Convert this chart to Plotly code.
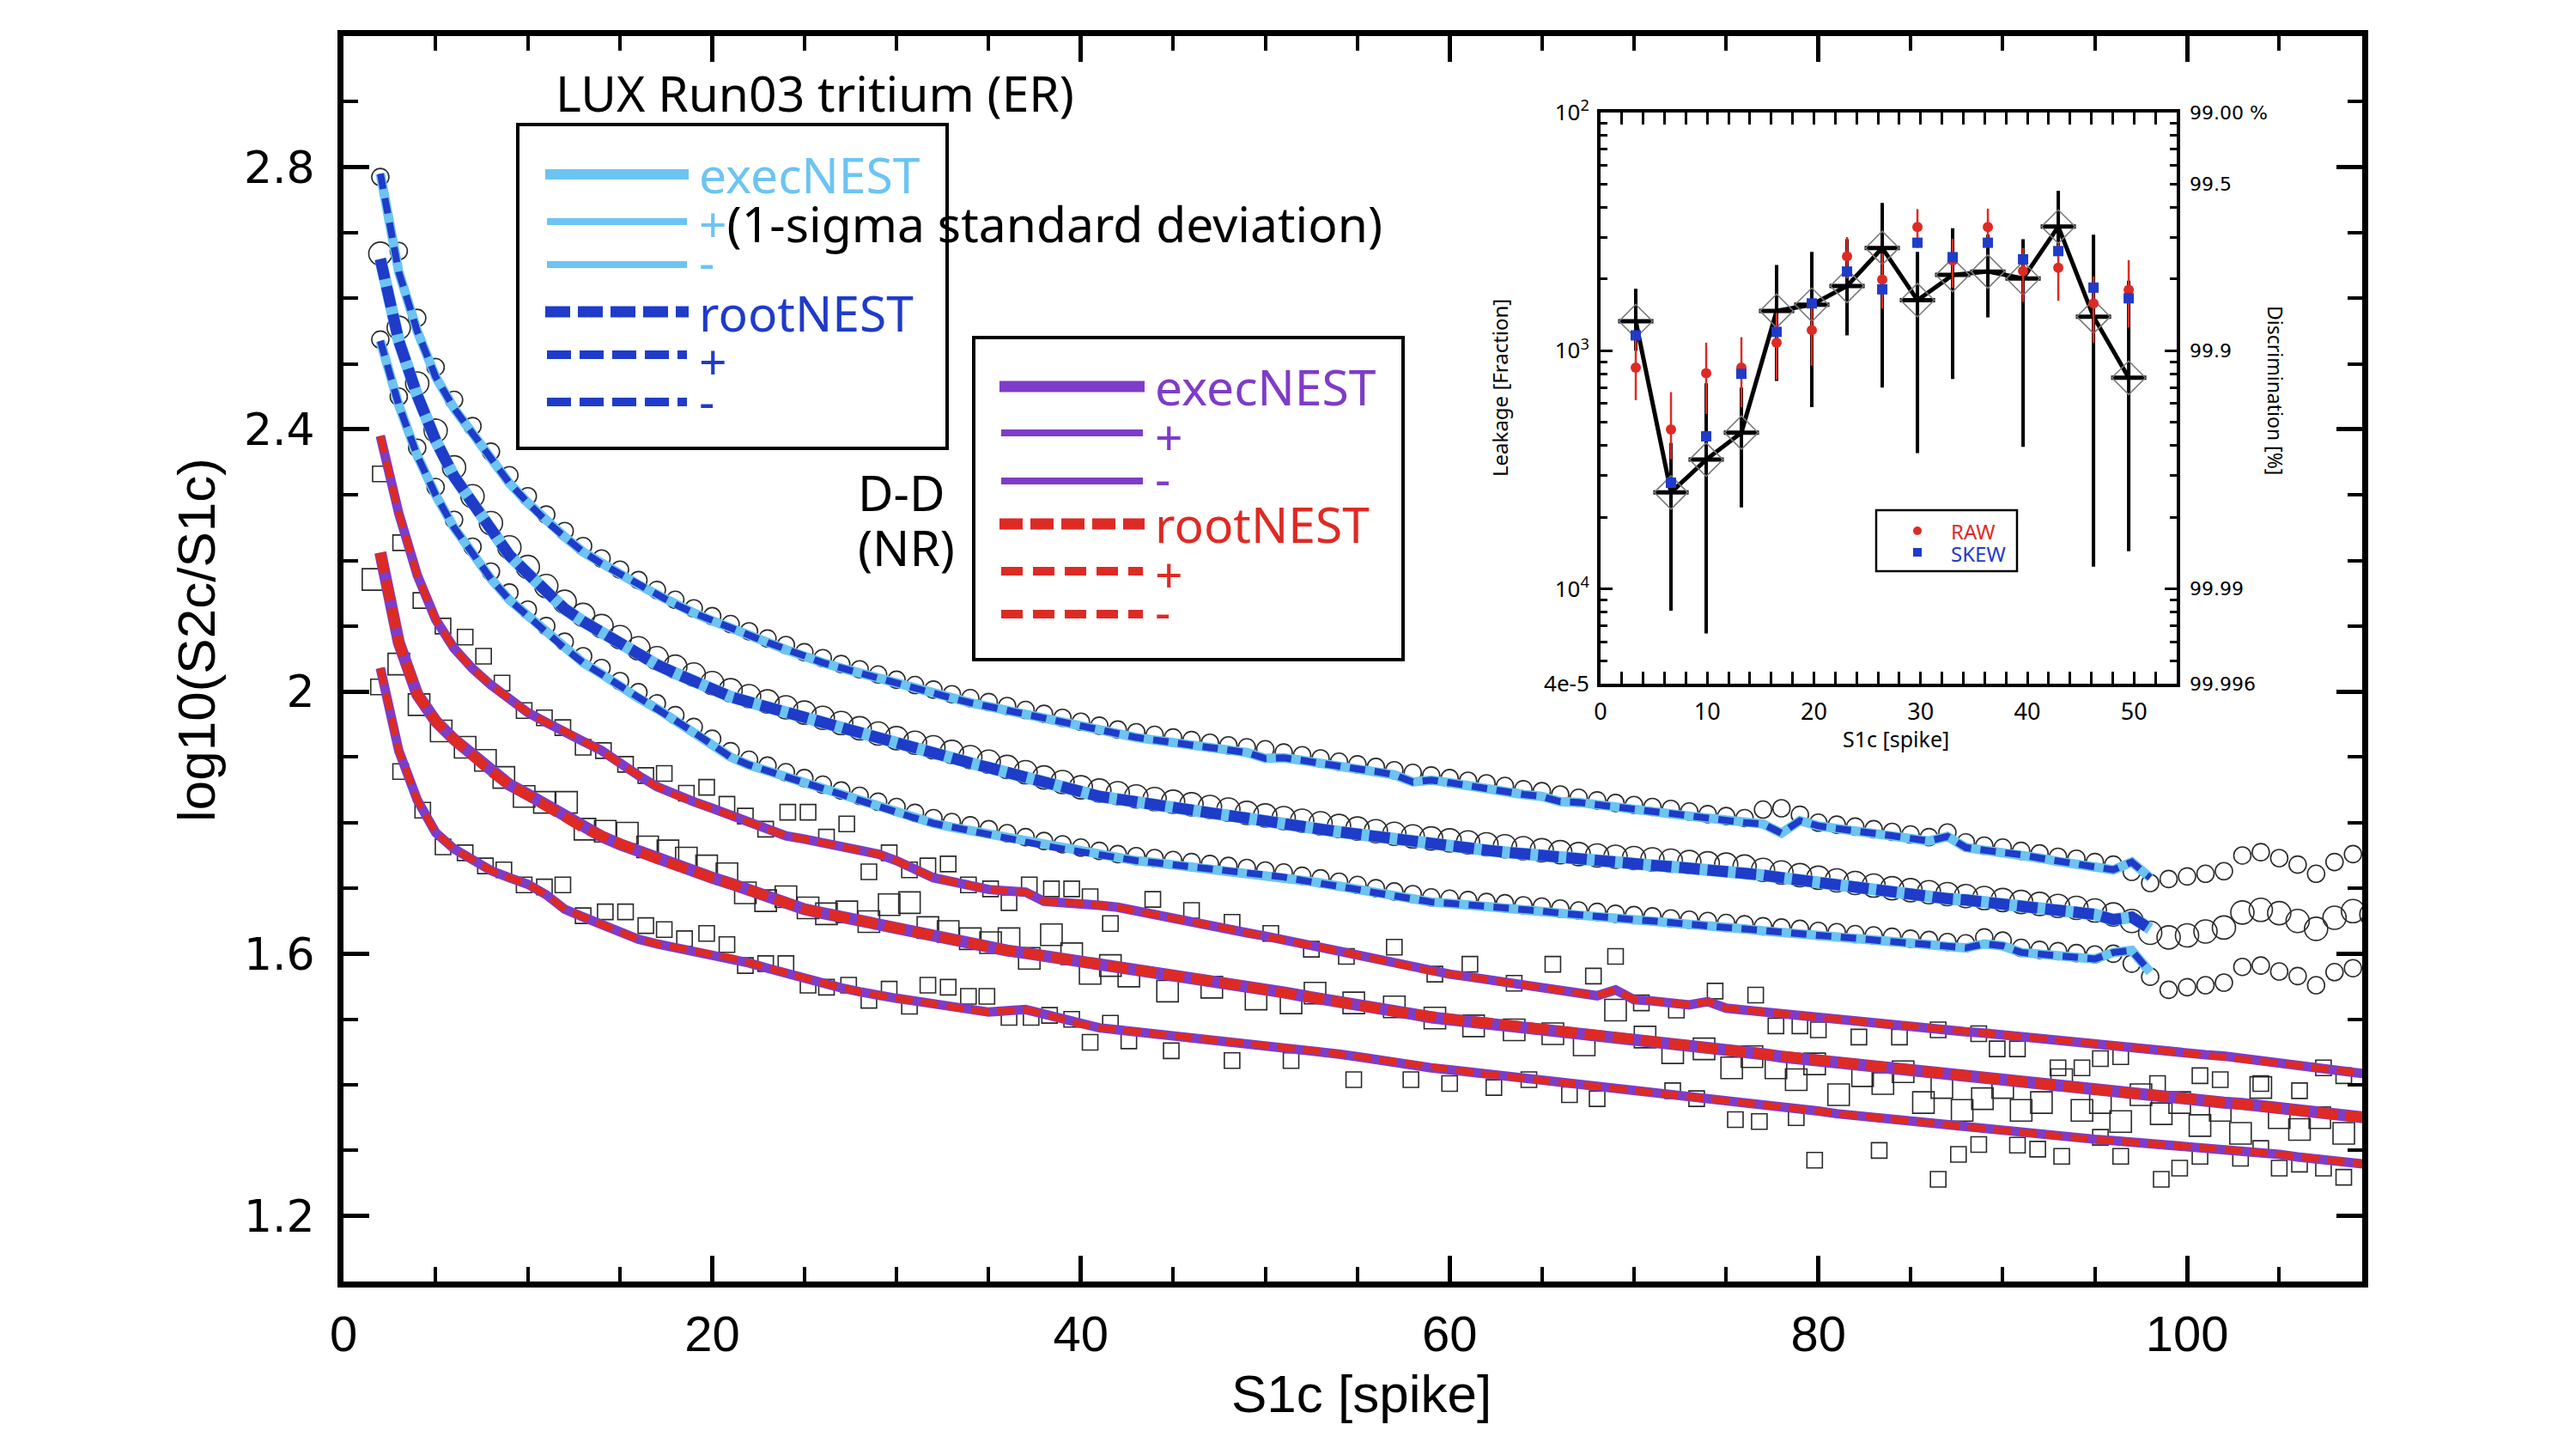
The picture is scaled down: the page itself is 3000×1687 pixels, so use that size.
import math
import plotly.graph_objects as go

# ---------------- main panel data ----------------
# ER (tritium) data points: mean, +1 sigma, -1 sigma (S1c = 2 .. 110)
er_pts_start = 2
er_top_pts = [2.785, 2.672, 2.57, 2.495, 2.445, 2.405, 2.366, 2.33, 2.298, 2.27,
              2.245, 2.222, 2.203, 2.186, 2.17, 2.155, 2.14, 2.127, 2.115, 2.103,
              2.092, 2.081, 2.071, 2.06, 2.051, 2.042, 2.034, 2.026, 2.018, 2.01,
              2.003, 1.996, 1.99, 1.984, 1.978, 1.972, 1.966, 1.96, 1.954, 1.948,
              1.942, 1.938, 1.934, 1.93, 1.926, 1.922, 1.918, 1.915, 1.912, 1.907,
              1.903, 1.898, 1.893, 1.889, 1.885, 1.88, 1.876, 1.872, 1.868, 1.864,
              1.86, 1.856, 1.851, 1.848, 1.843, 1.838, 1.834, 1.83, 1.827, 1.824,
              1.821, 1.817, 1.813, 1.81, 1.807, 1.82, 1.822, 1.812, 1.80, 1.797,
              1.794, 1.79, 1.786, 1.782, 1.778, 1.785, 1.77, 1.765, 1.762, 1.757,
              1.753, 1.748, 1.745, 1.74, 1.736, 1.725, 1.708, 1.714, 1.718, 1.722,
              1.726, 1.75, 1.755, 1.746, 1.736, 1.722, 1.74, 1.752, 1.75]
er_mid_pts = [2.668, 2.555, 2.47, 2.398, 2.342, 2.298, 2.257, 2.22, 2.19, 2.161,
              2.137, 2.117, 2.1, 2.083, 2.066, 2.051, 2.038, 2.026, 2.013, 2.002,
              1.993, 1.985, 1.976, 1.968, 1.96, 1.952, 1.944, 1.936, 1.929, 1.922,
              1.915, 1.908, 1.9, 1.893, 1.885, 1.877, 1.869, 1.862, 1.854, 1.849,
              1.845, 1.84, 1.836, 1.832, 1.828, 1.824, 1.82, 1.815, 1.811, 1.807,
              1.803, 1.799, 1.795, 1.791, 1.787, 1.783, 1.779, 1.776, 1.773, 1.77,
              1.767, 1.764, 1.761, 1.758, 1.755, 1.752, 1.75, 1.748, 1.746, 1.744,
              1.742, 1.74, 1.738, 1.736, 1.733, 1.728, 1.724, 1.72, 1.716, 1.712,
              1.708, 1.704, 1.70, 1.697, 1.694, 1.691, 1.688, 1.685, 1.682, 1.679,
              1.676, 1.673, 1.67, 1.666, 1.66, 1.65, 1.632, 1.625, 1.628, 1.634,
              1.64, 1.663, 1.667, 1.662, 1.65, 1.638, 1.655, 1.665, 1.66]
er_low_pts = [2.537, 2.45, 2.372, 2.312, 2.262, 2.221, 2.183, 2.151, 2.125, 2.1,
              2.076, 2.054, 2.036, 2.016, 1.999, 1.982, 1.964, 1.946, 1.928, 1.909,
              1.896, 1.887, 1.877, 1.868, 1.858, 1.849, 1.841, 1.832, 1.824, 1.815,
              1.807, 1.801, 1.796, 1.79, 1.784, 1.778, 1.772, 1.767, 1.762, 1.757,
              1.752, 1.749, 1.746, 1.743, 1.74, 1.737, 1.734, 1.731, 1.727, 1.724,
              1.719, 1.715, 1.71, 1.705, 1.70, 1.695, 1.691, 1.686, 1.684, 1.682,
              1.679, 1.677, 1.674, 1.672, 1.669, 1.666, 1.664, 1.661, 1.659, 1.657,
              1.654, 1.652, 1.65, 1.647, 1.645, 1.642, 1.64, 1.638, 1.635, 1.633,
              1.63, 1.628, 1.626, 1.623, 1.621, 1.618, 1.616, 1.625, 1.62, 1.609,
              1.606, 1.604, 1.601, 1.599, 1.6, 1.585, 1.565, 1.545, 1.549, 1.552,
              1.556, 1.58, 1.582, 1.573, 1.566, 1.552, 1.572, 1.578, 1.575]

# ER model curves (S1c = 2 .. 98)
er_line_start = 2
exec_er_top = [2.79, 2.64, 2.55, 2.48, 2.432, 2.395, 2.355, 2.318, 2.288, 2.26,
               2.236, 2.213, 2.195, 2.179, 2.163, 2.148, 2.133, 2.12, 2.108, 2.096,
               2.086, 2.075, 2.064, 2.053, 2.044, 2.036, 2.028, 2.02, 2.012, 2.004,
               1.996, 1.99, 1.983, 1.977, 1.971, 1.965, 1.958, 1.952, 1.946, 1.94,
               1.934, 1.93, 1.926, 1.922, 1.918, 1.914, 1.91, 1.907, 1.898, 1.899,
               1.895, 1.89, 1.886, 1.882, 1.878, 1.873, 1.862, 1.865, 1.861, 1.856,
               1.852, 1.848, 1.843, 1.84, 1.832, 1.831, 1.827, 1.823, 1.82, 1.817,
               1.814, 1.81, 1.807, 1.803, 1.8, 1.798, 1.784, 1.803, 1.795, 1.791,
               1.788, 1.784, 1.78, 1.776, 1.772, 1.779, 1.762, 1.758, 1.755, 1.751,
               1.746, 1.741, 1.737, 1.733, 1.728, 1.74, 1.716]
exec_er_mid = [2.66, 2.535, 2.452, 2.383, 2.328, 2.286, 2.244, 2.208, 2.18, 2.15,
               2.126, 2.107, 2.09, 2.073, 2.056, 2.041, 2.028, 2.016, 2.003, 1.992,
               1.984, 1.976, 1.967, 1.959, 1.951, 1.943, 1.935, 1.927, 1.92, 1.913,
               1.906, 1.899, 1.891, 1.884, 1.876, 1.868, 1.86, 1.853, 1.845, 1.84,
               1.836, 1.831, 1.827, 1.823, 1.819, 1.815, 1.811, 1.806, 1.802, 1.798,
               1.794, 1.79, 1.786, 1.782, 1.778, 1.774, 1.77, 1.767, 1.764, 1.761,
               1.758, 1.755, 1.752, 1.749, 1.746, 1.743, 1.741, 1.739, 1.737, 1.735,
               1.733, 1.731, 1.729, 1.727, 1.725, 1.72, 1.716, 1.712, 1.708, 1.704,
               1.70, 1.696, 1.693, 1.69, 1.687, 1.684, 1.682, 1.679, 1.676, 1.673,
               1.67, 1.667, 1.664, 1.66, 1.652, 1.656, 1.638]
exec_er_low = [2.535, 2.437, 2.36, 2.30, 2.25, 2.21, 2.172, 2.14, 2.115, 2.09,
               2.066, 2.044, 2.027, 2.007, 1.99, 1.974, 1.956, 1.938, 1.92, 1.90,
               1.888, 1.879, 1.869, 1.86, 1.85, 1.841, 1.833, 1.824, 1.816, 1.807,
               1.799, 1.793, 1.788, 1.783, 1.777, 1.771, 1.765, 1.76, 1.755, 1.75,
               1.745, 1.742, 1.739, 1.736, 1.733, 1.73, 1.727, 1.724, 1.72, 1.717,
               1.712, 1.708, 1.703, 1.698, 1.693, 1.688, 1.684, 1.679, 1.677, 1.675,
               1.672, 1.67, 1.667, 1.665, 1.662, 1.659, 1.657, 1.654, 1.652, 1.65,
               1.647, 1.645, 1.643, 1.64, 1.638, 1.635, 1.633, 1.631, 1.628, 1.626,
               1.623, 1.621, 1.619, 1.616, 1.614, 1.611, 1.609, 1.615, 1.612, 1.602,
               1.599, 1.597, 1.594, 1.592, 1.602, 1.605, 1.572]
root_er_top = list(exec_er_top)
root_er_mid = list(exec_er_mid)
root_er_low = list(exec_er_low)

# NR (D-D) model curves (S1c = 2 .. 110)
nr_line_start = 2
exec_nr_top = [2.39, 2.272, 2.178, 2.11, 2.066, 2.035, 2.01, 1.99, 1.968, 1.953,
               1.94, 1.924, 1.91, 1.89, 1.872, 1.855, 1.842, 1.832, 1.822, 1.812,
               1.80, 1.79, 1.78, 1.775, 1.769, 1.763, 1.757, 1.752, 1.742, 1.729,
               1.716, 1.71, 1.703, 1.698, 1.696, 1.694, 1.68, 1.679, 1.677, 1.674,
               1.671, 1.665, 1.66, 1.654, 1.648, 1.643, 1.638, 1.632, 1.627, 1.622,
               1.616, 1.61, 1.604, 1.598, 1.592, 1.585, 1.578, 1.573, 1.569, 1.565,
               1.561, 1.557, 1.553, 1.549, 1.545, 1.54, 1.536, 1.545, 1.53, 1.528,
               1.525, 1.522, 1.527, 1.517, 1.514, 1.511, 1.509, 1.506, 1.503, 1.5,
               1.498, 1.495, 1.492, 1.49, 1.487, 1.484, 1.481, 1.479, 1.476, 1.473,
               1.471, 1.468, 1.466, 1.463, 1.46, 1.457, 1.455, 1.452, 1.449, 1.446,
               1.444, 1.44, 1.437, 1.433, 1.43, 1.426, 1.422, 1.419, 1.416]
exec_nr_mid = [2.212, 2.075, 1.996, 1.955, 1.927, 1.902, 1.878, 1.858, 1.843, 1.826,
               1.809, 1.792, 1.779, 1.767, 1.756, 1.745, 1.734, 1.725, 1.716, 1.707,
               1.697, 1.686, 1.675, 1.668, 1.662, 1.656, 1.652, 1.647, 1.641, 1.635,
               1.629, 1.622, 1.616, 1.61, 1.605, 1.601, 1.597, 1.592, 1.588, 1.584,
               1.58, 1.575, 1.571, 1.567, 1.562, 1.558, 1.554, 1.55, 1.545, 1.541,
               1.536, 1.532, 1.527, 1.522, 1.517, 1.512, 1.508, 1.503, 1.5, 1.497,
               1.495, 1.492, 1.489, 1.487, 1.484, 1.481, 1.478, 1.474, 1.47, 1.467,
               1.463, 1.46, 1.456, 1.453, 1.45, 1.447, 1.443, 1.44, 1.437, 1.433,
               1.43, 1.427, 1.423, 1.42, 1.417, 1.415, 1.412, 1.409, 1.407, 1.404,
               1.401, 1.399, 1.396, 1.393, 1.39, 1.387, 1.385, 1.382, 1.379, 1.376,
               1.373, 1.371, 1.368, 1.364, 1.361, 1.358, 1.355, 1.352, 1.349]
exec_nr_low = [2.036, 1.91, 1.835, 1.785, 1.76, 1.743, 1.727, 1.716, 1.706, 1.69,
               1.668, 1.656, 1.645, 1.633, 1.622, 1.615, 1.609, 1.603, 1.599, 1.594,
               1.586, 1.578, 1.57, 1.562, 1.555, 1.548, 1.542, 1.536, 1.532, 1.528,
               1.523, 1.519, 1.514, 1.511, 1.513, 1.515, 1.508, 1.5, 1.492, 1.487,
               1.484, 1.481, 1.478, 1.476, 1.473, 1.47, 1.467, 1.465, 1.462, 1.459,
               1.455, 1.451, 1.447, 1.443, 1.438, 1.434, 1.43, 1.426, 1.423, 1.42,
               1.416, 1.413, 1.41, 1.406, 1.403, 1.4, 1.396, 1.393, 1.39, 1.387,
               1.384, 1.381, 1.379, 1.376, 1.373, 1.37, 1.366, 1.363, 1.36, 1.356,
               1.353, 1.35, 1.347, 1.344, 1.341, 1.338, 1.335, 1.333, 1.33, 1.327,
               1.324, 1.322, 1.319, 1.317, 1.315, 1.313, 1.311, 1.309, 1.307, 1.305,
               1.303, 1.3, 1.297, 1.294, 1.29, 1.287, 1.284, 1.281, 1.278]
root_nr_top = list(exec_nr_top)
root_nr_mid = list(exec_nr_mid)
root_nr_low = list(exec_nr_low)

# NR (D-D) data squares
nr_top_x = [2.0, 3.1, 4.2, 5.4, 6.6, 7.6, 8.6, 9.8, 10.9, 11.9, 13.0, 14.1, 15.3, 16.4, 17.4,
            18.6, 19.7, 20.8, 21.8, 22.9, 24.1, 25.2, 26.2, 27.3, 28.5, 29.6, 30.7, 31.7,
            32.8, 33.9, 35.1, 36.1, 37.2, 38.4, 39.5, 40.5, 41.6, 43.9, 46.0, 48.2, 50.3,
            52.5, 54.4, 57.0, 59.2, 61.1, 63.5, 65.6, 67.8, 69.0, 70.4, 72.3, 74.4, 76.6,
            77.7, 79.0, 80.0, 82.2, 84.4, 86.5, 88.7, 89.7, 90.8, 93.0, 94.3, 95.3, 96.4,
            98.4, 100.7, 101.8, 104.0, 106.1, 107.4, 108.5]
nr_top_y = [2.332, 2.227, 2.139, 2.10, 2.083, 2.054, 2.013, 1.971, 1.96, 1.945, 1.915, 1.91,
            1.889, 1.872, 1.875, 1.845, 1.854, 1.828, 1.81, 1.79, 1.816, 1.816, 1.778, 1.798,
            1.725, 1.754, 1.728, 1.734, 1.737, 1.705, 1.699, 1.678, 1.705, 1.699, 1.699,
            1.687, 1.646, 1.683, 1.666, 1.648, 1.631, 1.607, 1.596, 1.61, 1.569, 1.584,
            1.555, 1.584, 1.566, 1.596, 1.525, 1.514, 1.543, 1.537, 1.49, 1.49, 1.484,
            1.473, 1.473, 1.484, 1.478, 1.455, 1.455, 1.426, 1.426, 1.44, 1.443, 1.402,
            1.414, 1.408, 1.402, 1.391, 1.426, 1.414]
nr_mid_x = [1.6, 3.0, 4.1, 5.3, 6.6, 7.7, 8.7, 9.8, 10.9, 12.1, 13.1, 14.2, 15.4, 16.5, 17.6,
            18.6, 19.7, 20.8, 21.8, 22.9, 24.0, 25.2, 26.2, 27.3, 28.5, 29.6, 30.7, 31.7,
            32.8, 34.0, 35.1, 36.1, 37.2, 38.4, 39.5, 40.5, 41.6, 42.6, 44.7, 47.1, 49.5,
            51.4, 52.7, 54.8, 57.0, 59.2, 61.3, 63.5, 65.6, 67.3, 69.0, 70.6, 72.1, 73.8,
            75.3, 76.4, 77.7, 78.8, 79.8, 81.1, 82.4, 83.5, 84.6, 85.7, 86.7, 87.8, 88.9,
            90.0, 91.0, 92.1, 93.2, 94.3, 95.3, 96.4, 97.5, 98.6, 99.6, 100.7, 101.8,
            102.9, 104.0, 105.0, 106.1, 107.2, 108.5]
nr_mid_y = [2.171, 2.042, 1.98, 1.94, 1.915, 1.895, 1.869, 1.84, 1.831, 1.831, 1.79, 1.787,
            1.784, 1.763, 1.757, 1.746, 1.734, 1.722, 1.693, 1.681, 1.687, 1.67, 1.661,
            1.664, 1.649, 1.675, 1.678, 1.64, 1.634, 1.623, 1.617, 1.623, 1.593, 1.629,
            1.60, 1.57, 1.582, 1.566, 1.543, 1.549, 1.531, 1.525, 1.54, 1.525, 1.519,
            1.502, 1.49, 1.484, 1.478, 1.461, 1.514, 1.473, 1.449, 1.455, 1.426, 1.443,
            1.426, 1.408, 1.432, 1.385, 1.414, 1.402, 1.42, 1.373, 1.396, 1.361, 1.379,
            1.396, 1.361, 1.373, 1.408, 1.361, 1.373, 1.344, 1.385, 1.356, 1.373, 1.338,
            1.361, 1.326, 1.396, 1.35, 1.332, 1.35, 1.326]
nr_low_x = [1.9, 3.1, 4.3, 5.4, 6.6, 7.7, 8.7, 9.8, 10.9, 11.9, 13.0, 14.2, 15.3, 16.4, 17.4,
            18.5, 19.7, 20.8, 21.8, 22.9, 24.0, 25.2, 26.2, 27.4, 28.5, 29.6, 30.7, 31.7,
            32.8, 33.9, 34.9, 36.1, 37.3, 38.3, 39.5, 40.5, 41.6, 42.6, 44.9, 48.2, 51.4,
            54.8, 57.9, 60.0, 62.4, 64.3, 66.5, 68.0, 72.1, 73.4, 75.5, 76.8, 78.8, 79.8,
            83.3, 86.5, 87.6, 88.7, 90.8, 91.9, 93.2, 95.3, 96.4, 98.6, 99.6, 100.7,
            102.9, 104.0, 105.0, 106.1, 107.4, 108.5]
nr_low_y = [2.007, 1.878, 1.819, 1.763, 1.754, 1.734, 1.728, 1.705, 1.702, 1.705, 1.658,
            1.664, 1.664, 1.643, 1.637, 1.623, 1.631, 1.614, 1.582, 1.585, 1.585, 1.552,
            1.549, 1.552, 1.529, 1.546, 1.52, 1.552, 1.549, 1.535, 1.535, 1.503, 1.503,
            1.506, 1.50, 1.465, 1.494, 1.467, 1.452, 1.437, 1.437, 1.408, 1.408, 1.402,
            1.396, 1.408, 1.385, 1.379, 1.391, 1.379, 1.347, 1.344, 1.35, 1.285, 1.30,
            1.256, 1.294, 1.309, 1.308, 1.302, 1.291, 1.32, 1.291, 1.256, 1.273, 1.291,
            1.288, 1.303, 1.273, 1.279, 1.273, 1.259]

x_ticks = [0, 20, 40, 60, 80, 100]
y_ticks = [1.2, 1.6, 2.0, 2.4, 2.8]
y_tick_text = ["1.2", "1.6", "2", "2.4", "2.8"]

# ---------------- inset data ----------------
inset_x = [3.3, 6.6, 9.9, 13.2, 16.5, 19.8, 23.1, 26.4, 29.7, 33.0, 36.3, 39.6, 42.9, 46.2, 49.5]
bin_halfwidth = 1.65
leak = [1.33e-3, 2.54e-4, 3.49e-4, 4.53e-4, 1.47e-3, 1.56e-3, 1.87e-3, 2.70e-3,
        1.63e-3, 2.08e-3, 2.15e-3, 2.01e-3, 3.32e-3, 1.39e-3, 7.7e-4]
leak_hi = [1.82e-3, 4.1e-4, 7.3e-4, 7.0e-4, 2.29e-3, 2.6e-3, 2.94e-3, 4.17e-3,
           2.6e-3, 3.27e-3, 3.07e-3, 2.94e-3, 4.69e-3, 3.07e-3, 1.97e-3]
leak_lo = [1.0e-3, 8.1e-5, 6.5e-5, 2.2e-4, 7.46e-4, 5.8e-4, 1.16e-3, 7.0e-4,
           3.72e-4, 7.6e-4, 1.38e-3, 3.95e-4, 2.6e-3, 1.24e-4, 1.44e-4]
raw = [8.5e-4, 4.67e-4, 8.05e-4, 8.5e-4, 1.08e-3, 1.22e-3, 2.49e-3, 1.99e-3,
       3.31e-3, 2.39e-3, 3.31e-3, 2.16e-3, 2.23e-3, 1.58e-3, 1.80e-3]
raw_hi = [1.21e-3, 6.7e-4, 1.08e-3, 1.14e-3, 1.44e-3, 1.54e-3, 3.0e-3, 2.56e-3,
          3.93e-3, 2.95e-3, 3.95e-3, 2.7e-3, 2.8e-3, 2.05e-3, 2.4e-3]
raw_lo = [6.2e-4, 3.5e-4, 5.43e-4, 5.8e-4, 7.55e-4, 8.65e-4, 2.01e-3, 1.5e-3,
          2.7e-3, 1.84e-3, 2.72e-3, 1.6e-3, 1.62e-3, 1.08e-3, 1.25e-3]
skew = [1.16e-3, 2.79e-4, 4.37e-4, 8.0e-4, 1.2e-3, 1.58e-3, 2.15e-3, 1.81e-3,
        2.84e-3, 2.47e-3, 2.84e-3, 2.42e-3, 2.62e-3, 1.84e-3, 1.66e-3]
inset_x_ticks = [0, 10, 20, 30, 40, 50]
leak_tick_vals = [1e-2, 1e-3, 1e-4, 4e-5]
leak_tick_text = ["10<sup>2</sup>", "10<sup>3</sup>", "10<sup>4</sup>", "4e-5"]
disc_tick_vals = [1e-2, 5e-3, 1e-3, 1e-4, 4e-5]
disc_tick_text = ["99.00 %", "99.5", "99.9", "99.99", "99.996"]

# ---------------- styling ----------------
W, H = 3000, 1687
ML, MR, MT, MB = 400, 249, 42, 195
PW, PH = W - ML - MR, H - MT - MB


def pxx(x):
    return (x - ML) / PW


def pyy(y):
    return (H - MB - y) / PH


C_LB = "#6CC4F2"
C_DB = "#1F3BC9"
C_PU = "#7E3CC8"
C_RD = "#DE2A24"
C_MK = "#2a2a2a"
TXT = "Noto Sans"


def xs(start, arr):
    return [start + i for i in range(len(arr))]


fig = go.Figure()

# data markers
for arr, size in [(er_top_pts, 20), (er_mid_pts, 27), (er_low_pts, 20)]:
    fig.add_trace(go.Scatter(x=xs(er_pts_start, arr), y=arr, mode="markers",
                             marker=dict(symbol="circle-open", size=size, color=C_MK,
                                         line=dict(width=1.6, color=C_MK)),
                             showlegend=False, hoverinfo="skip"))
for xa, ya, size in [(nr_top_x, nr_top_y, 18), (nr_mid_x, nr_mid_y, 25), (nr_low_x, nr_low_y, 18)]:
    fig.add_trace(go.Scatter(x=xa, y=ya, mode="markers",
                             marker=dict(symbol="square-open", size=size, color=C_MK,
                                         line=dict(width=1.6, color=C_MK)),
                             showlegend=False, hoverinfo="skip"))

# model curves
for arr, w in [(exec_nr_top, 11), (exec_nr_mid, 14), (exec_nr_low, 11)]:
    fig.add_trace(go.Scatter(x=xs(nr_line_start, arr), y=arr, mode="lines",
                             line=dict(color=C_PU, width=w), showlegend=False, hoverinfo="skip"))
for arr, w, d in [(root_nr_top, 8, "20px,10px"), (root_nr_mid, 12, "24px,9px"), (root_nr_low, 8, "20px,10px")]:
    fig.add_trace(go.Scatter(x=xs(nr_line_start, arr), y=arr, mode="lines",
                             line=dict(color=C_RD, width=w, dash=d), showlegend=False, hoverinfo="skip"))
for arr, w in [(exec_er_top, 11), (exec_er_mid, 14), (exec_er_low, 11)]:
    fig.add_trace(go.Scatter(x=xs(er_line_start, arr), y=arr, mode="lines",
                             line=dict(color=C_LB, width=w), showlegend=False, hoverinfo="skip"))
for arr, w, d in [(root_er_top, 8, "18px,11px"), (root_er_mid, 13, "24px,9px"), (root_er_low, 8, "18px,11px")]:
    fig.add_trace(go.Scatter(x=xs(er_line_start, arr), y=arr, mode="lines",
                             line=dict(color=C_DB, width=w, dash=d), showlegend=False, hoverinfo="skip"))

# ---------------- inset traces ----------------
fig.add_trace(go.Scatter(
    x=inset_x, y=leak, mode="lines", xaxis="x2", yaxis="y2",
    line=dict(color="black", width=5),
    error_x=dict(type="constant", value=bin_halfwidth, thickness=5, width=0, color="black"),
    error_y=dict(type="data", array=[h - v for h, v in zip(leak_hi, leak)],
                 arrayminus=[v - l for v, l in zip(leak, leak_lo)],
                 thickness=4, width=0, color="black"),
    showlegend=False, hoverinfo="skip"))
fig.add_trace(go.Scatter(
    x=inset_x, y=leak, mode="markers", xaxis="x2", yaxis="y2",
    marker=dict(symbol="diamond-open", size=30, color="#7a7a7a", line=dict(width=1.6, color="#7a7a7a")),
    showlegend=False, hoverinfo="skip"))
fig.add_trace(go.Scatter(
    x=inset_x, y=raw, mode="markers", xaxis="x2", yaxis="y2",
    marker=dict(symbol="circle", size=12, color=C_RD),
    error_y=dict(type="data", array=[h - v for h, v in zip(raw_hi, raw)],
                 arrayminus=[v - l for v, l in zip(raw, raw_lo)],
                 thickness=2.5, width=0, color=C_RD),
    showlegend=False, hoverinfo="skip"))
fig.add_trace(go.Scatter(
    x=inset_x, y=skew, mode="markers", xaxis="x2", yaxis="y2",
    marker=dict(symbol="square", size=12, color=C_DB),
    showlegend=False, hoverinfo="skip"))
# right-hand discrimination axis (shares the leakage scale)
fig.add_trace(go.Scatter(
    x=inset_x, y=leak, mode="markers", xaxis="x2", yaxis="y3",
    marker=dict(size=1, opacity=0), showlegend=False, hoverinfo="skip"))

# ---------------- axes ----------------
main_axis = dict(showline=True, linewidth=7, linecolor="black", mirror="allticks",
                 ticks="inside", tickwidth=5, tickcolor="black", showgrid=False, zeroline=False)
fig.update_layout(
    xaxis=dict(domain=[0, 1], range=[0, 109.5], anchor="y", tickvals=x_ticks, ticklen=30,
               tickfont=dict(family="Liberation Sans, Arial", size=58, color="black"),
               ticklabelstandoff=4,
               minor=dict(ticks="inside", ticklen=17, tickwidth=4, tickcolor="black",
                          tickvals=[v for v in range(5, 110, 5) if v % 20]),
               **main_axis),
    yaxis=dict(domain=[0, 1], range=[1.1, 3.0], anchor="x", tickvals=y_ticks, ticktext=y_tick_text,
               ticklen=30, tickfont=dict(family="DejaVu Sans", size=52, color="black"),
               ticklabelstandoff=16,
               minor=dict(ticks="inside", ticklen=17, tickwidth=4, tickcolor="black",
                          tickvals=[round(1.1 + 0.1 * i, 2) for i in range(20)]),
               **main_axis),
)

lo, hi = math.log10(4e-5), -2
inset_axis = dict(showline=True, linewidth=4, linecolor="black", mirror="allticks",
                  ticks="inside", tickwidth=3, tickcolor="black", showgrid=False, zeroline=False)
minor_leak = [m * 10 ** e for e in (-3, -4) for m in range(2, 10)] + [m * 1e-5 for m in range(5, 10)]
fig.update_layout(
    xaxis2=dict(domain=[pxx(1864), pxx(2535)], range=[0, 54], anchor="y2", tickvals=inset_x_ticks,
                ticklen=14, tickfont=dict(family=TXT, size=27, color="black"), ticklabelstandoff=6,
                minor=dict(ticks="inside", ticklen=8, tickwidth=2.5, tickcolor="black",
                           tickvals=[v for v in range(2, 54, 2) if v % 10]),
                **inset_axis),
    yaxis2=dict(domain=[pyy(796), pyy(131)], type="log", range=[lo, hi], anchor="x2",
                tickvals=leak_tick_vals, ticktext=leak_tick_text, ticklen=14,
                tickfont=dict(family=TXT, size=26, color="black"), ticklabelstandoff=4,
                minor=dict(ticks="inside", ticklen=8, tickwidth=2.5, tickcolor="black",
                           tickvals=minor_leak),
                **inset_axis),
    yaxis3=dict(domain=[pyy(796), pyy(131)], type="log", range=[lo, hi], anchor="x2",
                overlaying="y2", side="right", tickvals=disc_tick_vals, ticktext=disc_tick_text,
                ticks="", showline=False, showgrid=False, zeroline=False, ticklabelstandoff=14,
                tickfont=dict(family="DejaVu Sans", size=22, color="black")),
)

# ---------------- annotations & legend boxes ----------------
ann = []
shapes = []


def text(x, y, s, size=57, color="black", family=TXT, anchor="left", angle=0):
    ann.append(dict(x=pxx(x), y=pyy(y), xref="paper", yref="paper", text=s, showarrow=False,
                    xanchor=anchor, yanchor="middle", textangle=angle,
                    font=dict(family=family, size=size, color=color)))


def hline(x0, x1, y, color, width, dash="solid"):
    shapes.append(dict(type="line", xref="paper", yref="paper", x0=pxx(x0), x1=pxx(x1),
                       y0=pyy(y), y1=pyy(y), line=dict(color=color, width=width, dash=dash)))


def box(x0, y0, x1, y1, width):
    shapes.append(dict(type="rect", xref="paper", yref="paper", x0=pxx(x0), x1=pxx(x1),
                       y0=pyy(y1), y1=pyy(y0), line=dict(color="black", width=width),
                       fillcolor="rgba(0,0,0,0)"))


# axis titles
text(1585, 1622, "S1c [spike]", size=62, family="Liberation Sans, Arial", anchor="center")
text(228, 745, "log10(S2c/S1c)", size=62, family="Liberation Sans, Arial", anchor="center", angle=-90)

# ER legend
text(645, 108, "LUX Run03 tritium (ER)", size=57)
box(603, 145, 1103, 522, 4)
hline(635, 802, 203, C_LB, 12)
hline(637, 800, 258, C_LB, 8)
hline(637, 800, 308, C_LB, 8)
hline(635, 802, 363, C_DB, 13, "29px,9px")
hline(637, 800, 413, C_DB, 10, "28px,10px")
hline(637, 800, 468, C_DB, 10, "28px,10px")
text(812, 203, "execNEST", color=C_LB)
text(812, 260, "<span style='color:%s'>+</span>(1-sigma standard deviation)" % C_LB)
text(812, 304, "-", color=C_LB)
text(812, 364, "rootNEST", color=C_DB)
text(812, 420, "+", color=C_DB)
text(812, 466, "-", color=C_DB)

# NR legend
text(997, 573, "D-D", size=57)
text(997, 637, "(NR)", size=57)
box(1134, 393, 1634, 768, 4)
hline(1164, 1333, 450, C_PU, 13)
hline(1166, 1331, 504, C_PU, 8)
hline(1166, 1331, 560, C_PU, 8)
hline(1164, 1333, 610, C_RD, 13, "27px,9px")
hline(1166, 1331, 665, C_RD, 10, "25px,12px")
hline(1166, 1331, 715, C_RD, 10, "25px,12px")
text(1343, 450, "execNEST", color=C_PU)
text(1343, 508, "+", color=C_PU)
text(1343, 556, "-", color=C_PU)
text(1343, 610, "rootNEST", color=C_RD)
text(1343, 668, "+", color=C_RD)
text(1343, 711, "-", color=C_RD)

# inset titles
text(2208, 860, "S1c [spike]", size=25, anchor="center")
text(1746, 452, "Leakage [Fraction]", size=24, anchor="center", angle=-90)
text(2650, 454, "Discrimination [%]", size=23, anchor="center", angle=90)

# inset legend
box(2185, 594, 2349, 665, 2.5)
shapes.append(dict(type="circle", xref="paper", yref="paper", x0=pxx(2228), x1=pxx(2238),
                   y0=pyy(623), y1=pyy(613), fillcolor=C_RD, line=dict(width=0)))
shapes.append(dict(type="rect", xref="paper", yref="paper", x0=pxx(2228), x1=pxx(2238),
                   y0=pyy(648), y1=pyy(638), fillcolor=C_DB, line=dict(width=0)))
text(2270, 618, "RAW", size=24, color=C_RD)
text(2270, 644, "SKEW", size=24, color=C_DB)

fig.update_layout(
    width=W, height=H,
    margin=dict(l=ML, r=MR, t=MT, b=MB, autoexpand=False),
    paper_bgcolor="white", plot_bgcolor="white",
    showlegend=False,
    annotations=ann, shapes=shapes,
)

fig.write_html("out.html")
